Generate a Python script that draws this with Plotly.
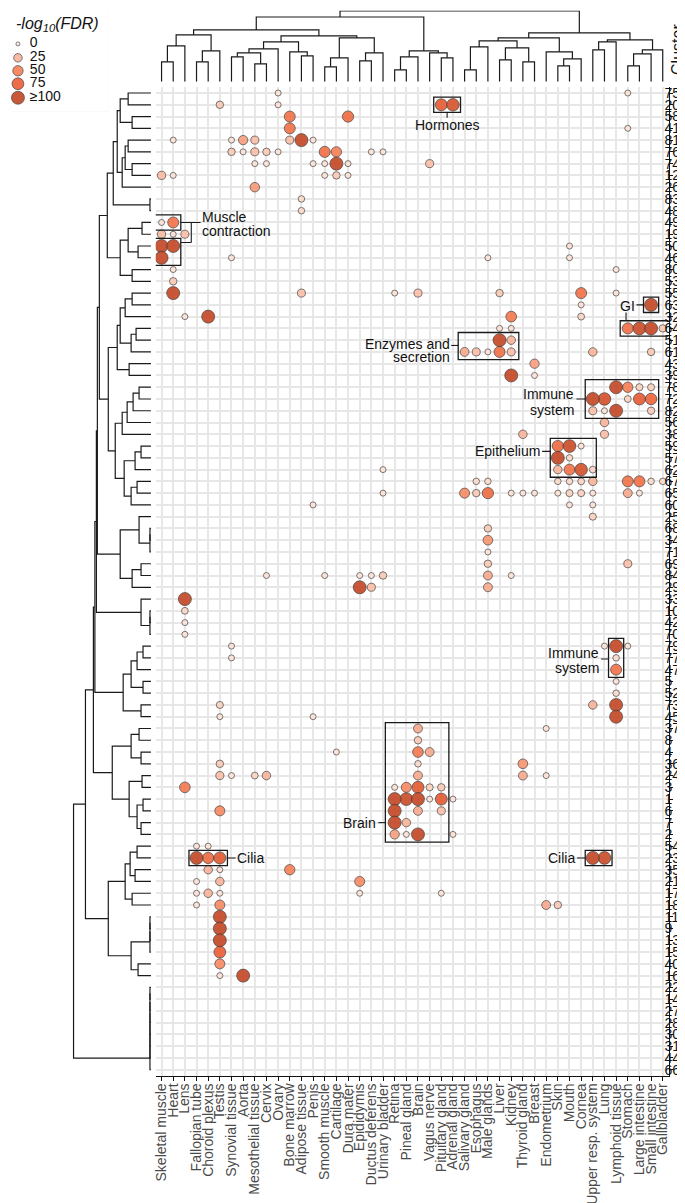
import math
import plotly.graph_objects as go

# ---------------- data ----------------
tissues = ["Skeletal muscle", "Heart", "Lens", "Fallopian tube", "Choroid plexus", "Testis",
           "Synovial tissue", "Aorta", "Mesothelial tissue", "Cervix", "Ovary", "Bone marrow",
           "Adipose tissue", "Penis", "Smooth muscle", "Cartilage", "Dura mater", "Epididymis",
           "Ductus deferens", "Urinary bladder", "Retina", "Pineal gland", "Brain", "Vagus nerve",
           "Pituitary gland", "Adrenal gland", "Salivary gland", "Esophagus", "Male glands", "Liver",
           "Kidney", "Thyroid gland", "Breast", "Endometrium", "Skin", "Mouth", "Cornea",
           "Upper resp. system", "Lung", "Lymphoid tissue", "Stomach", "Large intestine",
           "Small intestine", "Gallbladder"]

clusters = ["75", "20", "58", "41", "81", "76", "74", "12", "26", "83", "48", "49", "19", "50",
            "46", "80", "53", "55", "63", "32", "64", "51", "61", "43", "39", "78", "72", "82",
            "56", "38", "59", "57", "62", "67", "65", "60", "25", "68", "34", "71", "69", "84",
            "29", "33", "10", "42", "70", "79", "77", "47", "5", "52", "73", "45", "37", "8", "4",
            "36", "24", "3", "1", "6", "7", "2", "54", "23", "35", "21", "17", "18", "11", "9",
            "13", "15", "40", "16", "22", "14", "27", "28", "30", "31", "44", "66"]

bub_cluster = [
    "75", "75",
    "20", "20", "20", "20",
    "58", "58",
    "41", "41",
    "81", "81", "81", "81", "81", "81", "81",
    "76", "76", "76", "76", "76", "76", "76", "76", "76",
    "74", "74", "74", "74", "74", "74", "74",
    "12", "12", "12", "12", "12",
    "26",
    "83",
    "48",
    "49", "49",
    "19", "19", "19",
    "50", "50", "50",
    "46", "46", "46", "46",
    "80", "80",
    "53",
    "55", "55", "55", "55", "55", "55", "55",
    "63", "63",
    "32", "32", "32", "32",
    "64", "64", "64", "64", "64", "64",
    "51", "51",
    "61", "61", "61", "61", "61", "61", "61",
    "43",
    "39", "39",
    "78", "78", "78", "78",
    "72", "72", "72", "72", "72",
    "82", "82", "82", "82",
    "56",
    "38", "38",
    "59", "59", "59",
    "57", "57",
    "62", "62", "62", "62", "62",
    "67", "67", "67", "67", "67", "67", "67", "67", "67", "67",
    "65", "65", "65", "65", "65", "65", "65", "65", "65", "65", "65", "65", "65",
    "60", "60", "60",
    "25",
    "68",
    "34",
    "71",
    "69", "69",
    "84", "84", "84", "84", "84", "84", "84",
    "29", "29", "29",
    "33",
    "10",
    "42",
    "70",
    "79", "79", "79", "79",
    "77", "77",
    "47",
    "5",
    "52",
    "73", "73", "73",
    "45", "45", "45",
    "37", "37",
    "8",
    "4", "4", "4",
    "36", "36", "36",
    "24", "24", "24", "24", "24", "24", "24",
    "3", "3", "3", "3", "3", "3",
    "1", "1", "1", "1", "1", "1",
    "6", "6", "6", "6",
    "7", "7",
    "2", "2", "2", "2",
    "54", "54",
    "23", "23", "23", "23", "23",
    "35", "35", "35",
    "21", "21", "21",
    "17", "17", "17", "17", "17",
    "18", "18", "18", "18",
    "11",
    "9",
    "13",
    "15",
    "40",
    "16", "16",
]

bub_tissue = [
    "Ovary", "Stomach",
    "Testis", "Ovary", "Pituitary gland", "Adrenal gland",
    "Bone marrow", "Dura mater",
    "Bone marrow", "Stomach",
    "Heart", "Synovial tissue", "Aorta", "Mesothelial tissue", "Bone marrow", "Adipose tissue", "Penis",
    "Synovial tissue", "Aorta", "Mesothelial tissue", "Cervix", "Ovary", "Smooth muscle", "Cartilage", "Ductus deferens", "Urinary bladder",
    "Mesothelial tissue", "Cervix", "Penis", "Smooth muscle", "Cartilage", "Dura mater", "Vagus nerve",
    "Skeletal muscle", "Heart", "Smooth muscle", "Cartilage", "Dura mater",
    "Mesothelial tissue",
    "Adipose tissue",
    "Adipose tissue",
    "Skeletal muscle", "Heart",
    "Skeletal muscle", "Heart", "Lens",
    "Skeletal muscle", "Heart", "Mouth",
    "Skeletal muscle", "Synovial tissue", "Male glands", "Mouth",
    "Heart", "Lymphoid tissue",
    "Heart",
    "Heart", "Adipose tissue", "Retina", "Brain", "Liver", "Cornea", "Lymphoid tissue",
    "Cornea", "Small intestine",
    "Lens", "Choroid plexus", "Kidney", "Cornea",
    "Liver", "Kidney", "Stomach", "Large intestine", "Small intestine", "Gallbladder",
    "Liver", "Kidney",
    "Salivary gland", "Esophagus", "Male glands", "Liver", "Kidney", "Upper resp. system", "Small intestine",
    "Breast",
    "Kidney", "Breast",
    "Lymphoid tissue", "Stomach", "Large intestine", "Small intestine",
    "Upper resp. system", "Lung", "Stomach", "Large intestine", "Small intestine",
    "Upper resp. system", "Lung", "Lymphoid tissue", "Small intestine",
    "Lung",
    "Thyroid gland", "Lung",
    "Skin", "Mouth", "Cornea",
    "Skin", "Mouth",
    "Urinary bladder", "Skin", "Mouth", "Cornea", "Upper resp. system",
    "Esophagus", "Male glands", "Skin", "Mouth", "Cornea", "Upper resp. system", "Stomach", "Large intestine", "Small intestine", "Gallbladder",
    "Urinary bladder", "Salivary gland", "Esophagus", "Male glands", "Kidney", "Thyroid gland", "Breast", "Skin", "Mouth", "Cornea", "Upper resp. system", "Stomach", "Large intestine",
    "Penis", "Mouth", "Upper resp. system",
    "Upper resp. system",
    "Male glands",
    "Male glands",
    "Male glands",
    "Male glands", "Stomach",
    "Cervix", "Smooth muscle", "Epididymis", "Ductus deferens", "Urinary bladder", "Male glands", "Kidney",
    "Epididymis", "Ductus deferens", "Male glands",
    "Lens",
    "Lens",
    "Lens",
    "Lens",
    "Synovial tissue", "Lung", "Lymphoid tissue", "Stomach",
    "Synovial tissue", "Lymphoid tissue",
    "Lymphoid tissue",
    "Lymphoid tissue",
    "Lymphoid tissue",
    "Testis", "Upper resp. system", "Lymphoid tissue",
    "Testis", "Penis", "Lymphoid tissue",
    "Brain", "Endometrium",
    "Brain",
    "Cartilage", "Brain", "Vagus nerve",
    "Testis", "Brain", "Thyroid gland",
    "Testis", "Synovial tissue", "Mesothelial tissue", "Cervix", "Brain", "Thyroid gland", "Endometrium",
    "Lens", "Retina", "Pineal gland", "Brain", "Vagus nerve", "Pituitary gland",
    "Retina", "Pineal gland", "Brain", "Vagus nerve", "Pituitary gland", "Adrenal gland",
    "Testis", "Retina", "Brain", "Pituitary gland",
    "Retina", "Pineal gland",
    "Retina", "Pineal gland", "Brain", "Adrenal gland",
    "Fallopian tube", "Choroid plexus",
    "Fallopian tube", "Choroid plexus", "Testis", "Upper resp. system", "Lung",
    "Choroid plexus", "Testis", "Bone marrow",
    "Fallopian tube", "Testis", "Epididymis",
    "Fallopian tube", "Choroid plexus", "Testis", "Epididymis", "Pituitary gland",
    "Fallopian tube", "Testis", "Endometrium", "Skin",
    "Testis",
    "Testis",
    "Testis",
    "Testis",
    "Testis",
    "Testis", "Aorta",
]

bub_value = [
    5, 5,
    15, 5, 78, 88,
    60, 65,
    60, 5,
    5, 5, 35, 20, 20, 100, 5,
    15, 5, 20, 15, 5, 62, 50, 5, 5,
    5, 5, 5, 5, 100, 5, 20,
    22, 5, 5, 15, 5,
    38,
    8,
    8,
    5, 60,
    22, 5, 20,
    100, 100, 5,
    100, 5, 5, 5,
    5, 5,
    15,
    100, 20, 5, 20, 15, 60, 5,
    5, 100,
    5, 100, 55, 10,
    5, 5, 62, 95, 100, 15,
    100, 25,
    30, 20, 5, 62, 20, 25, 15,
    35,
    100, 5,
    100, 50, 12, 12,
    100, 90, 10, 78, 70,
    20, 5, 100, 15,
    25,
    25, 20,
    65, 95, 5,
    100, 8,
    5, 25, 60, 90, 10,
    8, 8, 8, 8, 10, 25, 60, 62, 8, 8,
    5, 45, 15, 65, 5, 5, 5, 5, 12, 12, 5, 30, 5,
    5, 5, 5,
    12,
    15,
    40,
    5,
    15, 20,
    5, 5, 5, 5, 15, 30, 5,
    100, 20, 30,
    100,
    10,
    5,
    5,
    5, 5, 100, 5,
    5, 8,
    60,
    5,
    8,
    12, 25, 100,
    5, 5, 100,
    30, 5,
    15,
    5, 55, 30,
    15, 8, 40,
    20, 5, 10, 25, 30, 30, 5,
    55, 5, 45, 80, 12, 15,
    100, 95, 100, 5, 80, 5,
    45, 100, 30, 20,
    100, 25,
    35, 5, 100, 5,
    5, 5,
    100, 65, 80, 100, 95,
    25, 5, 50,
    5, 25, 45,
    5, 25, 5, 5, 5,
    5, 45, 30, 15,
    100,
    100,
    100,
    75,
    45,
    5, 100,
]

legend_values = [0, 25, 50, 75, 100]
legend_labels = ["0", "25", "50", "75", "\u2265100"]


def N(a, b, h):
    return (a, b, h)


# column dendrogram (leaves = tissue indices, heights in px)
top_tree = N(
    N(
        N(N(N(0, 1, 20), 2, 36), N(N(3, 4, 20), 5, 31), 47),
        N(
            N(N(N(N(6, 7, 25), N(8, 9, 18), 29), 10, 33), N(11, N(12, 13, 26), 30), 40),
            N(N(N(14, 15, 15), 16, 24), N(N(17, 18, 21), 19, 29), 44),
            46),
        52),
    N(N(N(20, 21, 12), 22, 25), N(23, N(24, 25, 24), 29), 31),
    65)
top_tree = N(
    top_tree,
    N(
        N(
            N(N(N(26, 27, 12), 28, 35), N(N(29, 30, 22), N(31, 32, 20), 34), 41),
            N(33, N(N(34, 35, 16), 36, 23), 30),
            44),
        N(N(N(37, 38, 32), 39, 40), N(N(N(40, 41, 16), 42, 28), 43, 32), 42),
        49),
    71)

# row dendrogram (leaves = cluster row indices, heights in px)
G1 = N(N(N(N(0, 1, 23), N(2, 3, 19), 31), N(N(N(4, 5, 23), N(6, 7, 19), 26), 8, 29), 34), N(9, 10, 1), 38)
MUSCLE = N(N(N(11, 12, 9), N(13, 14, 13), 23), N(15, 16, 19), 31)
GB1 = N(N(N(N(17, 18, 19), 19, 26), N(N(20, 21, 15), 22, 20), 31), N(23, 24, 22), 34)
GB2 = N(N(N(N(25, 26, 12), 27, 18), 28, 24), 29, 29)
GB3 = N(N(N(30, 31, 10), 32, 16), N(N(33, 34, 14), 35, 20), 27)
GB = N(GB1, N(GB2, GB3, 36), 43)
GC = N(N(36, N(N(37, 38, 1), 39, 1), 12), N(N(40, 41, 10), 42, 19), 31)
GD = N(43, N(N(44, 45, 1), 46, 1), 10)
GE = N(N(N(N(47, 48, 8), 49, 14), N(50, 51, 8), 20), N(52, 53, 10), 28)
GF = N(N(N(54, 55, 12), N(56, 57, 10), 20), N(N(58, 59, 9), N(N(60, 61, 8), N(62, 63, 10), 14), 22), 39)
GG = N(N(N(N(64, 65, 14), N(66, 67, 16), 21), N(68, 69, 19), 26),
       N(N(N(N(70, 71, 1), 72, 1), 73, 1), N(74, 75, 13), 20), 43)
FLAT = N(N(N(N(N(N(N(76, 77, 1), 78, 1), 79, 1), 80, 1), 81, 1), 82, 1), 83, 1)
left_tree = N(N(N(N(N(N(N(N(G1, MUSCLE, 44), GB, 52), GC, 54), GD, 55), GE, 56.5), GF, 58), GG, 66), FLAT, 78)

# ---------------- helpers ----------------
FONT = "Liberation Sans, Arial, Helvetica, sans-serif"
W, H = 685, 1203


def px_x(p):
    return p / W


def px_y(p):
    return 1 - p / H


def color_of(v):
    stops = [(0, (253, 238, 231)), (10, (251, 214, 197)), (25, (249, 181, 156)),
             (50, (246, 131, 90)), (75, (235, 98, 58)), (100, (196, 76, 42))]
    v = max(0.0, min(100.0, float(v)))
    for (v0, c0), (v1, c1) in zip(stops[:-1], stops[1:]):
        if v <= v1:
            t = (v - v0) / (v1 - v0)
            return "rgb(%d,%d,%d)" % tuple(round(a + (b - a) * t) for a, b in zip(c0, c1))
    return "rgb(196,76,42)"


def size_of(v):
    return 4 + 9 * math.sqrt(max(0.0, min(float(v), 100.0)) / 100.0)


def dendro(node):
    if isinstance(node, int):
        return float(node), 0.0, [], []
    a, b, h = node
    pa, ha, xa, ya = dendro(a)
    pb, hb, xb, yb = dendro(b)
    pos = xa + xb + [pa, pa, pb, pb, None]
    hts = ya + yb + [ha, h, h, hb, None]
    return (pa + pb) / 2, h, pos, hts


fig = go.Figure()

# bubbles (small drawn first)
order = sorted(range(len(bub_value)), key=lambda i: bub_value[i])
bx = [tissues.index(bub_tissue[i]) for i in order]
by = [clusters.index(bub_cluster[i]) for i in order]
bv = [bub_value[i] for i in order]
fig.add_trace(go.Scatter(
    x=bx, y=by, mode="markers", xaxis="x", yaxis="y", hoverinfo="skip",
    marker=dict(size=[size_of(v) for v in bv], color=[color_of(v) for v in bv],
                opacity=0.93, line=dict(color="#3a3a3a", width=0.7))))

# top dendrogram
_, _, tx, th = dendro(top_tree)
fig.add_trace(go.Scatter(x=tx, y=th, mode="lines", xaxis="x3", yaxis="y2",
                         line=dict(color="#1a1a1a", width=1.2), hoverinfo="skip"))
# left dendrogram
_, _, ly, lh = dendro(left_tree)
fig.add_trace(go.Scatter(x=lh, y=ly, mode="lines", xaxis="x2", yaxis="y3",
                         line=dict(color="#1a1a1a", width=1.2), hoverinfo="skip"))

# legend
leg_y = [34, 48, 61, 74, 88]
fig.add_trace(go.Scatter(
    x=[7] * len(legend_values), y=leg_y, mode="markers", xaxis="x4", yaxis="y4", hoverinfo="skip",
    marker=dict(size=[size_of(v) for v in legend_values], color=[color_of(v) for v in legend_values],
                opacity=0.93, line=dict(color="#3a3a3a", width=0.7))))
fig.add_trace(go.Scatter(
    x=[19] * len(legend_values), y=leg_y, mode="text", text=legend_labels, textposition="middle right",
    textfont=dict(family=FONT, size=14, color="#111"), xaxis="x4", yaxis="y4", hoverinfo="skip"))

# axes geometry (pixels)
PL, PR, PT, PB = 145.8, 662.4, 77.4, 1069.2
shapes = []
annotations = []

shapes.append(dict(type="rect", xref="paper", yref="paper", x0=0, x1=px_x(98), y0=px_y(102), y1=1,
                   fillcolor="#ebebeb", line=dict(width=0), layer="below"))
annotations.append(dict(xref="paper", yref="paper", x=px_x(3), y=px_y(15), xanchor="left", yanchor="middle",
                        text="<i>-log<sub>10</sub>(FDR)</i>", showarrow=False,
                        font=dict(family=FONT, size=16, color="#111")))
annotations.append(dict(xref="paper", yref="paper", x=px_x(672), y=px_y(40), xanchor="center", yanchor="middle",
                        text="Cluster", textangle=-90, showarrow=False, borderpad=0,
                        font=dict(family=FONT, size=16, color="#111")))


def box(t0, t1, c0, c1, pl=0.65, pr=0.65, pt=0.65, pb=0.65):
    i0, i1 = tissues.index(t0), tissues.index(t1)
    j0, j1 = clusters.index(c0), clusters.index(c1)
    shapes.append(dict(type="rect", xref="x", yref="y", x0=i0 - pl, x1=i1 + pr, y0=j0 - pt, y1=j1 + pb,
                       line=dict(color="#1a1a1a", width=1.3), fillcolor="rgba(0,0,0,0)", layer="above"))


def seg(x0, y0, x1, y1):
    shapes.append(dict(type="line", xref="x", yref="y", x0=x0, y0=y0, x1=x1, y1=y1,
                       line=dict(color="#1a1a1a", width=1.1), layer="above"))


def label(x, y, txt, anchor):
    annotations.append(dict(xref="x", yref="y", x=x, y=y, text=txt, showarrow=False, xanchor=anchor,
                            yanchor="middle", borderpad=0, font=dict(family=FONT, size=14, color="#111")))


# Hormones
box("Pituitary gland", "Adrenal gland", "20", "20")
seg(24.5, 1.65, 24.5, 2.1)
label(24.5, 2.75, "Hormones", "center")
# Muscle contraction
box("Skeletal muscle", "Heart", "49", "49")
box("Skeletal muscle", "Heart", "50", "46")
seg(1.65, 11, 3.35, 11)
seg(2.55, 11, 2.55, 12.7)
seg(1.65, 12.7, 2.55, 12.7)
label(3.4, 10.5, "Muscle", "left")
label(3.4, 11.7, "contraction", "left")
# GI
box("Small intestine", "Small intestine", "63", "63")
box("Stomach", "Gallbladder", "64", "64")
seg(40.75, 18, 41.35, 18)
seg(39.85, 18.65, 39.85, 19.35)
label(40.7, 18.1, "GI", "right")
# Enzymes and secretion
box("Salivary gland", "Kidney", "51", "61", pl=0.55)
seg(24.85, 21.45, 25.45, 21.45)
label(24.8, 21.3, "Enzymes and", "right")
label(24.8, 22.45, "secretion", "right")
# Immune system 1
box("Upper resp. system", "Small intestine", "78", "82")
seg(35.6, 26.0, 36.35, 26.0)
label(35.5, 25.6, "Immune", "right")
label(35.5, 26.9, "system", "right")
# Epithelium
box("Skin", "Upper resp. system", "59", "62", pr=0.3)
seg(32.65, 30.45, 33.35, 30.45)
label(32.55, 30.45, "Epithelium", "right")
# Immune system 2
box("Lymphoid tissue", "Lymphoid tissue", "79", "47")
seg(37.7, 48.1, 38.35, 48.1)
label(37.6, 47.6, "Immune", "right")
label(37.6, 48.9, "system", "right")
# Brain
box("Retina", "Pituitary gland", "37", "2", pl=0.8, pt=0.5)
seg(18.6, 62, 19.2, 62)
label(18.5, 62, "Brain", "right")
# Cilia
box("Fallopian tube", "Testis", "23", "23")
seg(5.65, 65, 6.35, 65)
label(6.4, 65, "Cilia", "left")
box("Upper resp. system", "Lung", "23", "23")
seg(35.65, 65, 36.35, 65)
label(35.55, 65, "Cilia", "right")

grid = "#e7e7e7"
fig.update_layout(
    width=W, height=H, margin=dict(l=0, r=0, t=0, b=0),
    paper_bgcolor="white", plot_bgcolor="white", showlegend=False,
    font=dict(family=FONT),
    xaxis=dict(domain=[px_x(PL), px_x(PR)], range=[-0.5, 43.5], anchor="y",
               tickmode="array", tickvals=list(range(len(tissues))), ticktext=tissues, tickangle=-90,
               ticks="outside", ticklen=4, tickwidth=1.2, tickcolor="#111",
               showline=True, linecolor="#111", linewidth=1.4, ticklabeloverflow="allow",
               ticklabelstandoff=-3,
               showgrid=True, gridcolor=grid, gridwidth=1.7, zeroline=False,
               tickfont=dict(family=FONT, size=14, color="#4a4a4a")),
    yaxis=dict(domain=[px_y(PB), px_y(PT)], range=[len(clusters) - 0.5, -0.5], anchor="x", side="right",
               tickmode="array", tickvals=list(range(len(clusters))), ticktext=clusters,
               ticks="outside", ticklen=3, tickwidth=1.2, tickcolor="#111",
               showline=True, linecolor="#111", linewidth=1.4, ticklabeloverflow="allow",
               ticklabelstandoff=-11,
               showgrid=True, gridcolor=grid, gridwidth=1.7, zeroline=False,
               tickfont=dict(family=FONT, size=14, color="#111")),
    xaxis2=dict(domain=[px_x(53), px_x(141)], range=[88, 0], anchor="y3", visible=False),
    yaxis3=dict(domain=[px_y(PB), px_y(PT)], range=[len(clusters) - 0.5, -0.5], anchor="x2", visible=False),
    xaxis3=dict(domain=[px_x(PL), px_x(PR)], range=[-0.5, 43.5], anchor="y2", visible=False),
    yaxis2=dict(domain=[px_y(72), px_y(0.5)], range=[0, 71.5], anchor="x3", visible=False),
    xaxis4=dict(domain=[0, px_x(98)], range=[0, 98], anchor="y4", visible=False),
    yaxis4=dict(domain=[px_y(102), 1], range=[102, 0], anchor="x4", visible=False),
    shapes=shapes, annotations=annotations,
)

fig.write_html("out.html")
